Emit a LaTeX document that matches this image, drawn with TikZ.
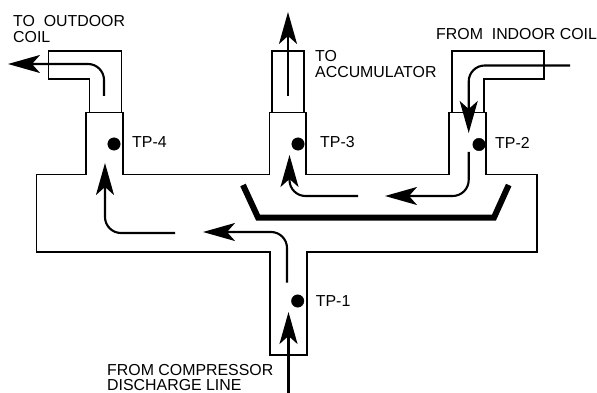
\documentclass[tikz,border=0pt]{standalone}
\usepackage{fontspec}
\setmainfont{Liberation Sans}
\usetikzlibrary{arrows.meta}

\tikzset{
    pipe/.style={line width=1.7pt, line join=miter},
    flow/.style={line width=2.1pt, rounded corners=16pt, -{Stealth[length=32pt, width=18pt, inset=8pt]}},
    testpoint/.style={draw, circle, fill=black, inner sep=0pt, minimum size=12.5pt},
    lbl/.style={inner sep=0pt, align=left, anchor=base west, font=\fontsize{15.9}{16}\selectfont},
}

\begin{document}
\begin{tikzpicture}[x=1pt, y=-1pt]
        \useasboundingbox (0,0) rectangle (597,393);

        % manifold body
        \draw[pipe] (36.5,174.5) -- (36.5,252) -- (270,252) -- (270,355) -- (306.7,355) -- (306.7,252)
            -- (537,252) -- (537,174.5) -- (486,174.5) -- (486,112.5) -- (449,112.5) -- (449,174.5)
            -- (306,174.5) -- (306,112.5) -- (269.5,112.5) -- (269.5,174.5) -- (123,174.5)
            -- (123,112.5) -- (86,112.5) -- (86,174.5) -- cycle;

        % stubs
        \draw[pipe] (89.5,112.5) -- (89.5,79) -- (48.5,79) -- (48.5,51) -- (121.5,51) -- (121.5,112.5);
        \draw[pipe] (272,112.5) -- (272,51) -- (303.7,51) -- (303.7,112.5);
        \draw[pipe] (451.7,112.5) -- (451.7,51) -- (544,51) -- (544,79) -- (483.7,79) -- (483.7,112.5);

        % baffle
        \draw[line width=6pt, line join=miter] (243,185) -- (258,217.5) -- (494,217.5) -- (508.7,185);

        % test points
        \node[testpoint] (tp4) at (114,144) {};
        \node[testpoint] (tp3) at (298,144) {};
        \node[testpoint] (tp2) at (479,144.5) {};
        \node[testpoint] (tp1) at (297.7,301) {};

        \node[lbl] (tp4label) at (132,148) {TP-4};
        \node[lbl] (tp3label) at (320,148) {TP-3};
        \node[lbl] (tp2label) at (495,149) {TP-2};
        \node[lbl] (tp1label) at (315.7,306.7) {TP-1};

        \node[lbl] (outdoor) at (13,27) {TO\ \ OUTDOOR};
        \node[lbl] (outdoor2) at (13,43) {COIL};
        \node[lbl] (accum) at (315,62) {TO};
        \node[lbl] (accum2) at (315,78) {ACCUMULATOR};
        \node[lbl] (indoor) at (436,40) {FROM\ \ INDOOR COIL};
        \node[lbl] (comp) at (107,375) {FROM COMPRESSOR};
        \node[lbl] (comp2) at (107,390.7) {DISCHARGE LINE};

        % flow ends
        \coordinate (outA) at (104,96);
        \coordinate (outB) at (104,64);
        \coordinate (outC) at (8,64);
        \coordinate (accA) at (288,96);
        \coordinate (accB) at (288,12);
        \coordinate (inA) at (570,65.5);
        \coordinate (inB) at (468.7,65.5);
        \coordinate (inC) at (468.7,133);
        \coordinate (downA) at (468.7,152);
        \coordinate (downB) at (468.7,196);
        \coordinate (downC) at (385,196);
        \coordinate (retA) at (358,196);
        \coordinate (retB) at (289.5,196);
        \coordinate (retC) at (289.5,155);
        \coordinate (leftA) at (175,233);
        \coordinate (leftB) at (105,233);
        \coordinate (leftC) at (105,163);
        \coordinate (compA) at (287,282.7);
        \coordinate (compB) at (287,232);
        \coordinate (compC) at (203,232);
        \coordinate (startA) at (288.5,393);
        \coordinate (startB) at (288.5,312);

        \draw[flow] (outA) -- (outB) -- (outC);
        \draw[flow] (accA) -- (accB);
        \draw[flow] (inA) -- (inB) -- (inC);
        \draw[flow] (downA) -- (downB) -- (downC);
        \draw[flow] (retA) -- (retB) -- (retC);
        \draw[flow] (leftA) -- (leftB) -- (leftC);
        \draw[flow] (compA) -- (compB) -- (compC);
        \draw[flow] (startA) -- (startB);
    \end{tikzpicture}
\end{document}
